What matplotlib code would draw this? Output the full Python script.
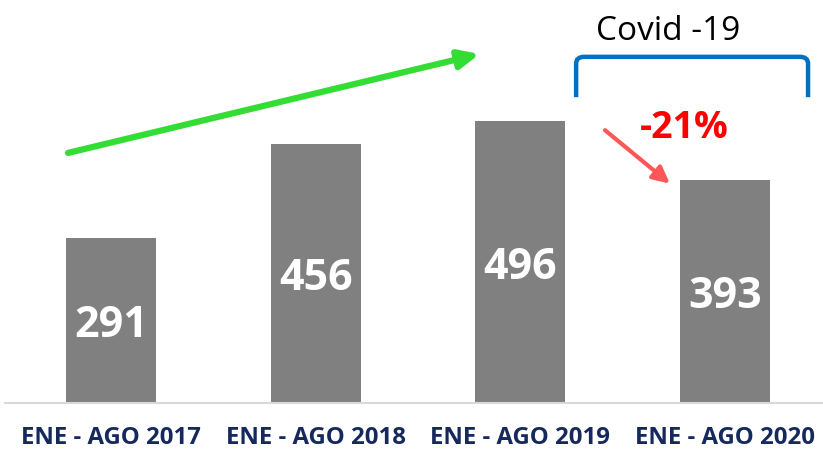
import matplotlib
matplotlib.use("Agg")
import matplotlib.pyplot as plt
from matplotlib.path import Path
from matplotlib.patches import PathPatch

categories = ["ENE - AGO 2017", "ENE - AGO 2018", "ENE - AGO 2019", "ENE - AGO 2020"]
values = [291, 456, 496, 393]
change_label = "-21%"
covid_label = "Covid -19"

plt.rcParams['font.family'] = ['Open Sans', 'DejaVu Sans']

W, H = 823, 451
fig = plt.figure(figsize=(W / 100, H / 100), dpi=100)
# axes: x from 5px to right edge, baseline at 403px from top
ax = fig.add_axes([5 / W, 48 / H, 1 - 5 / W, 403 / H])
x = list(range(len(categories)))
ax.bar(x, values, width=0.44, color="#808080", zorder=2)
ax.set_xlim(-0.518, 3.478)
ax.set_ylim(0, 709)

for xi, v in zip(x, values):
    ax.annotate(str(v), xy=(xi, v / 2), xytext=(0, -4), textcoords="offset points",
                ha="center", va="center", color="white",
                fontsize=31, fontweight="bold")

ax.set_yticks([])
ax.set_xticks(x)
ax.set_xticklabels(categories, fontsize=17.3, fontweight="bold", color="#16295E")
ax.tick_params(axis="x", length=0, pad=16.5)
for s in ["top", "right", "left"]:
    ax.spines[s].set_visible(False)
ax.spines["bottom"].set_color("#D9D9D9")
ax.spines["bottom"].set_linewidth(1.5)

# green growth arrow
ax.annotate("", xy=(1.80, 614), xytext=(-0.21, 440),
            arrowprops=dict(arrowstyle="-|>,head_length=1.2,head_width=0.55",
                            color="#33DD33", lw=4.5, shrinkA=0, shrinkB=0))
# red decline arrow
ax.annotate("", xy=(2.73, 386), xytext=(2.413, 480),
            arrowprops=dict(arrowstyle="-|>,head_length=1.0,head_width=0.5",
                            color="#FF5757", lw=3, shrinkA=0, shrinkB=0))
ax.text(2.80, 483, change_label, ha="center", va="center", color="#FF0000",
        fontsize=27, fontweight="bold")

# blue bracket
x1, x2 = 2.272, 3.405
yb, yt = 538, 609
r_x, r_y = 0.04, 12
verts = [(x1, yb), (x1, yt - r_y), (x1, yt), (x1 + r_x, yt), (x2 - r_x, yt),
         (x2, yt), (x2, yt - r_y), (x2, yb)]
codes = [Path.MOVETO, Path.LINETO, Path.CURVE3, Path.CURVE3, Path.LINETO,
         Path.CURVE3, Path.CURVE3, Path.LINETO]
ax.add_patch(PathPatch(Path(verts, codes), fill=False, edgecolor="#0070C0",
                       lw=3.2, capstyle="butt", clip_on=False))
ax.text(2.72, 654, covid_label, ha="center", va="center", color="black",
        fontsize=24)

fig.savefig("out.png", dpi=100)
